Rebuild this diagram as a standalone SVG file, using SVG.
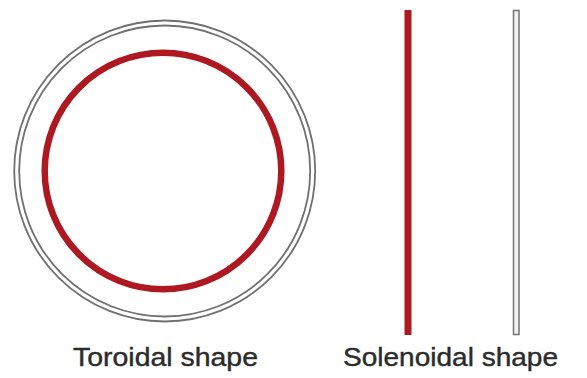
<svg xmlns="http://www.w3.org/2000/svg" width="587" height="378" viewBox="0 0 587 378">
<style>
.gray{fill:none;stroke:#707070;stroke-width:1.8}
.red{fill:none;stroke:#ae1820;stroke-width:6.5}
.lbl{font-family:"Liberation Sans",Arial,sans-serif;font-size:26px;fill:#2b2b2b;stroke:#2b2b2b;stroke-width:0.4}
</style>
<rect width="587" height="378" fill="#fff"/>
<g id="toroid">
<circle class="gray" cx="164.7" cy="171" r="150.5"/>
<circle class="gray" cx="164.7" cy="171" r="145.5"/>
<circle class="red" cx="163" cy="171" r="118.3"/>
</g>
<g id="solenoid-red">
<rect x="404.5" y="10" width="7" height="325" fill="#ae1820"/>
</g>
<g id="solenoid-gray">
<rect x="513.5" y="10.5" width="5.5" height="324" fill="#f0f0f0" stroke="#7a7a7a" stroke-width="1.6"/>
</g>
<g id="labels">
<text class="lbl" x="73" y="366" textLength="185" lengthAdjust="spacingAndGlyphs">Toroidal shape</text>
<text class="lbl" x="343" y="366" textLength="215" lengthAdjust="spacingAndGlyphs">Solenoidal shape</text>
</g>
</svg>
